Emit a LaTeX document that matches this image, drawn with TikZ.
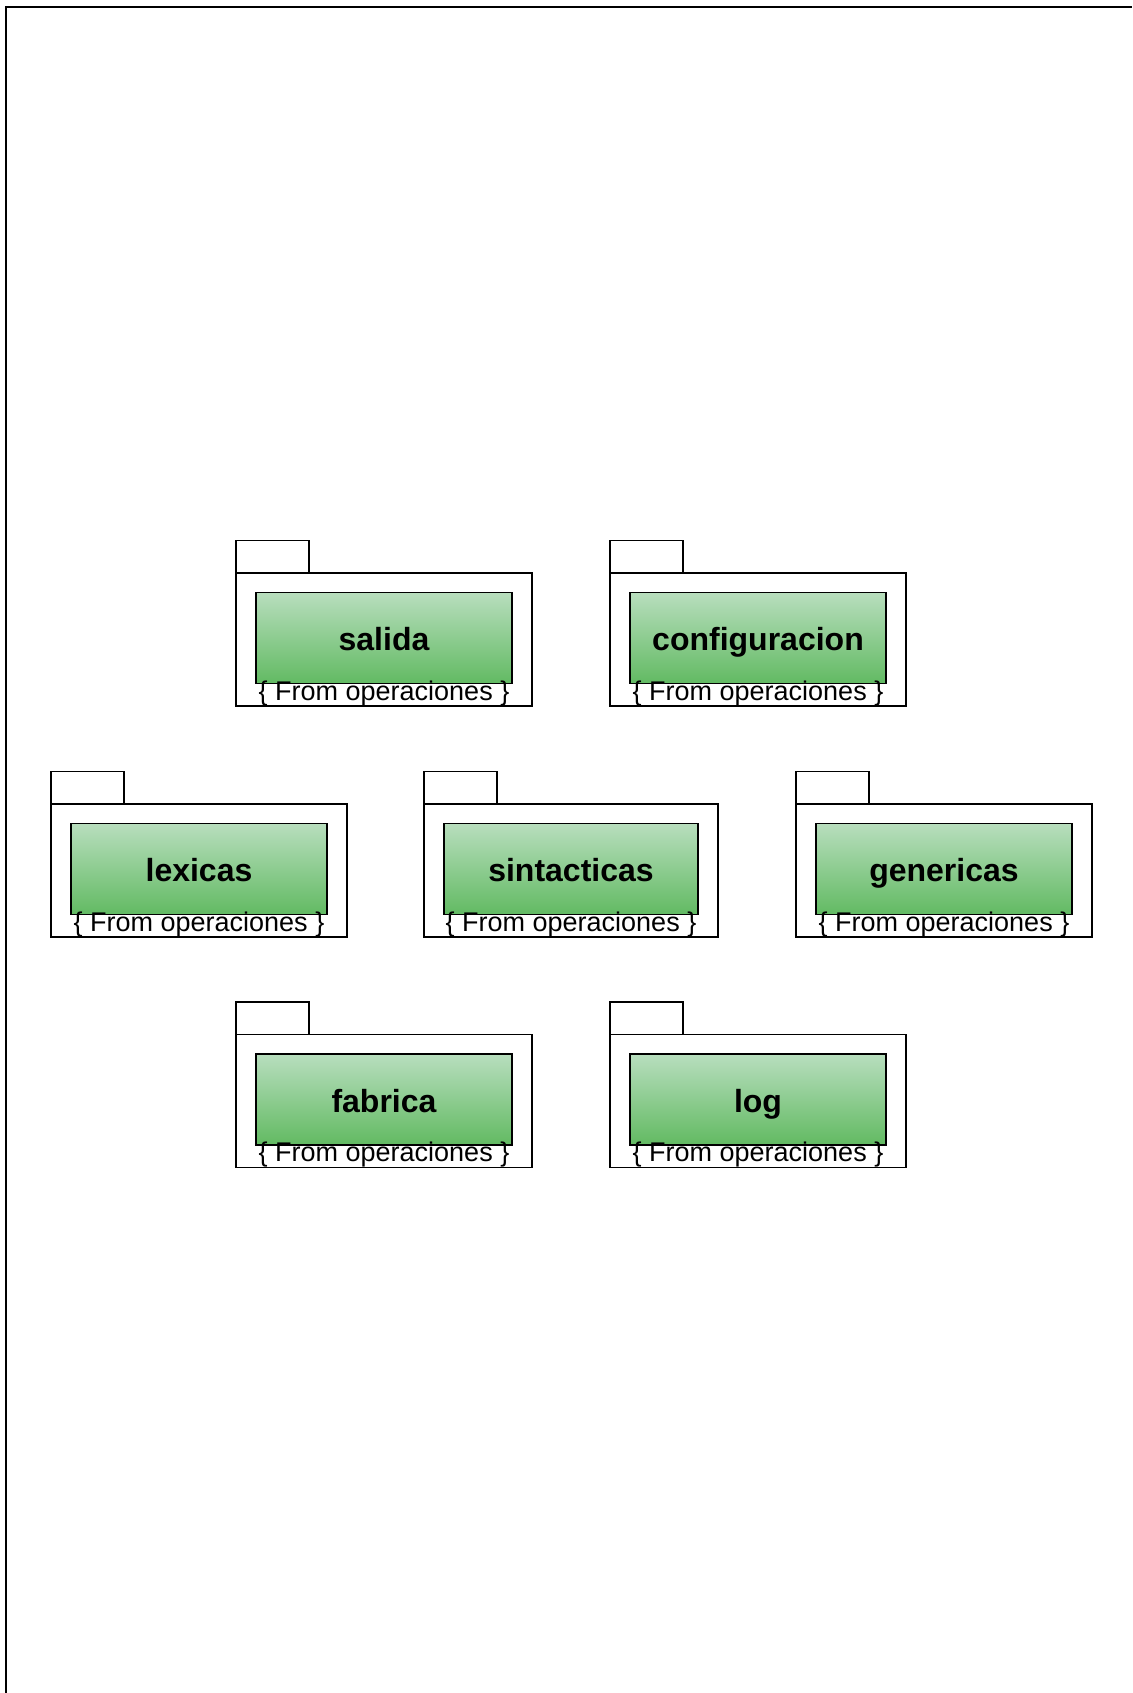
\documentclass[tikz,border=0pt]{standalone}
\usepackage{fontspec}
\setmainfont{Liberation Sans}

\definecolor{pkgtop}{RGB}{184,222,190}
\definecolor{pkgbottom}{RGB}{98,186,98}

\tikzset{
  pkgline/.style={draw=black, line width=1.6pt, outer sep=0pt},
  pkgbody/.style={pkgline, fill=white, inner sep=0pt, anchor=north west,
    minimum height=133pt},
  pkgtab/.style={pkgline, fill=white, inner sep=0pt, anchor=south west,
    minimum width=73pt, minimum height=32.5pt},
  pkginner/.style={pkgline, top color=pkgtop, bottom color=pkgbottom,
    inner sep=0pt, anchor=north, minimum height=91pt},
  pkgtitle/.style={anchor=base, inner sep=0pt, outer sep=0pt,
    font=\fontsize{32}{38}\selectfont\bfseries},
  pkgnote/.style={anchor=base, inner sep=0pt, outer sep=0pt,
    font=\fontsize{27}{32}\selectfont},
}

% UML package: [body width]{name}{x}{y of body top}{title}
\newcommand{\umlpackage}[5][296]{%
  \node[pkgbody, minimum width=#1pt] (#2) at (#3,#4) {};
  \node[pkgtab] (#2-tab) at (#2.north west) {};
  \pgfmathsetmacro{\innerw}{#1-40}%
  \node[pkginner, minimum width=\innerw pt] (#2-inner) at ([yshift=-19.5pt]#2.north) {};
  \node[pkgtitle] (#2-title) at ([yshift=-58pt]#2-inner.north) {#5};
  \node[pkgnote] (#2-note) at ([yshift=6pt]#2.south) {\{ From operaciones \}};
}

\begin{document}
\begin{tikzpicture}[x=1pt, y=-1pt]
  \useasboundingbox (0,0) rectangle (1132,1693);
  % page frame (top and left edges)
  \draw[line width=2pt] (6,1693) |- (1132,7);

  % first row
  \umlpackage{salida}{236}{573}{salida}
  \umlpackage{configuracion}{610}{573}{configuracion}
  % second row
  \umlpackage{lexicas}{51}{804}{lexicas}
  \umlpackage[294]{sintacticas}{424}{804}{sintacticas}
  \umlpackage{genericas}{796}{804}{genericas}
  % third row
  \umlpackage{fabrica}{236}{1034.5}{fabrica}
  \umlpackage{log}{610}{1034.5}{log}
\end{tikzpicture}
\end{document}
